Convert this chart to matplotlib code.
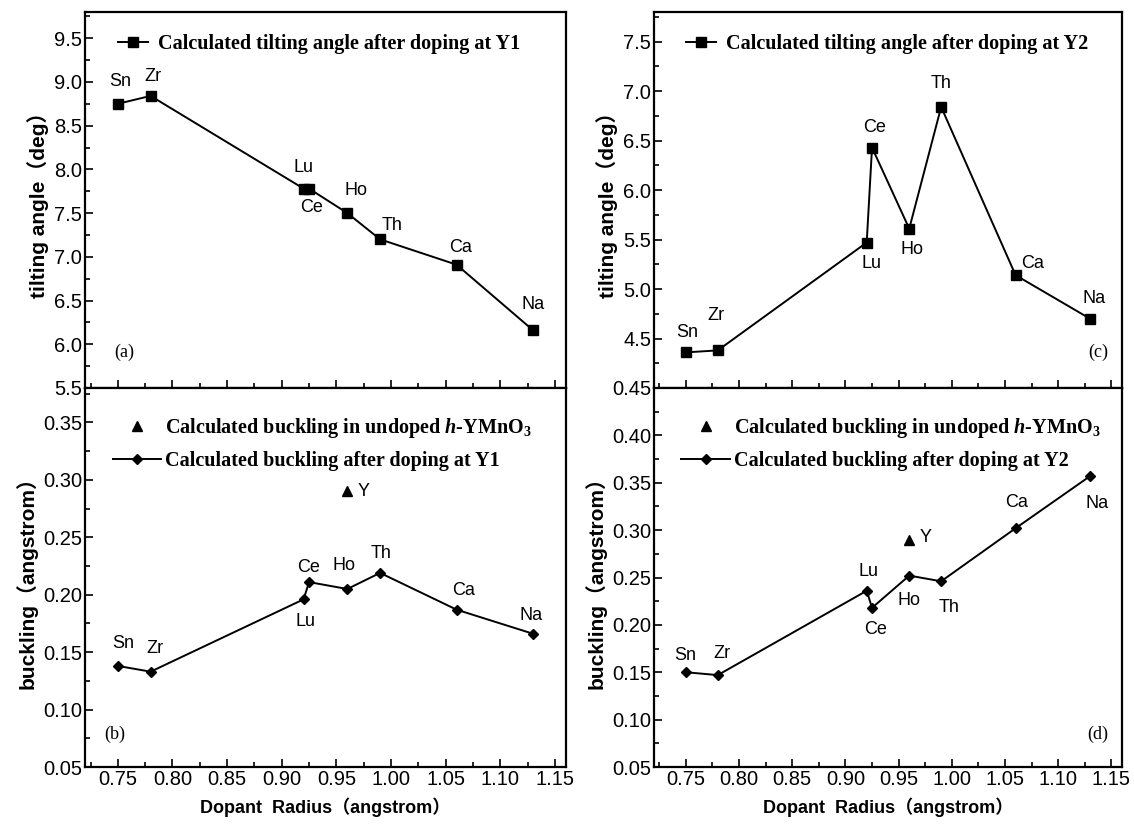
import matplotlib
matplotlib.use("Agg")
import matplotlib.pyplot as plt
from matplotlib.ticker import MultipleLocator, FixedLocator

# --- datos ---
dopantes = ["Sn", "Zr", "Lu", "Ce", "Ho", "Th", "Ca", "Na"]
radio = [0.75, 0.78, 0.92, 0.925, 0.96, 0.99, 1.06, 1.13]

angulo_y1 = [8.75, 8.84, 7.78, 7.78, 7.50, 7.20, 6.91, 6.16]
angulo_y2 = [4.36, 4.38, 5.47, 6.43, 5.61, 6.84, 5.14, 4.70]
buckling_y1 = [0.138, 0.133, 0.196, 0.211, 0.205, 0.219, 0.187, 0.166]
buckling_y2 = [0.150, 0.147, 0.236, 0.218, 0.252, 0.246, 0.302, 0.357]

# Y sin dopar
radio_y = [0.96]
buckling_sin_dopar = [0.29]

ticks_a = [5.5, 6.0, 6.5, 7.0, 7.5, 8.0, 8.5, 9.0, 9.5]
ticks_c = [4.5, 5.0, 5.5, 6.0, 6.5, 7.0, 7.5]
ticks_b = [0.05, 0.10, 0.15, 0.20, 0.25, 0.30, 0.35]
ticks_d = [0.05, 0.10, 0.15, 0.20, 0.25, 0.30, 0.35, 0.40, 0.45]
ticks_x = [0.75, 0.80, 0.85, 0.90, 0.95, 1.00, 1.05, 1.10, 1.15]

# desplazamientos de las etiquetas (pixeles)
off_a = {"Sn": (2, 22), "Zr": (2, 19), "Lu": (0, 21), "Ce": (2, -19),
         "Ho": (9, 23), "Th": (12, 14), "Ca": (4, 17), "Na": (0, 26)}
off_c = {"Sn": (1, 20), "Zr": (-2, 35), "Lu": (5, -21), "Ce": (3, 20),
         "Ho": (3, -21), "Th": (0, 23), "Ca": (17, 12), "Na": (4, 20)}
off_b = {"Sn": (5, 22), "Zr": (4, 23), "Lu": (2, -22), "Ce": (-1, 15),
         "Ho": (-3, 23), "Th": (1, 19), "Ca": (7, 19), "Na": (-2, 18)}
off_d = {"Sn": (-1, 17), "Zr": (4, 22), "Lu": (2, 19), "Ce": (4, -22),
         "Ho": (0, -25), "Th": (8, -26), "Ca": (1, 26), "Na": (7, -27)}

plt.rcParams['font.family'] = ['Liberation Sans', 'DejaVu Sans']
plt.rcParams['mathtext.fontset'] = 'custom'
plt.rcParams['mathtext.rm'] = 'Liberation Serif:bold'
plt.rcParams['mathtext.it'] = 'Liberation Serif:italic:bold'

fuente_ylabel = dict(family=['Liberation Sans', 'Noto Sans CJK SC'], weight='bold', size=15)
fuente_xlabel = dict(family=['Liberation Sans', 'Noto Sans CJK SC'], weight='bold', size=13)
fuente_leyenda = {'family': 'Liberation Serif', 'weight': 'bold', 'size': 14.5}

fig = plt.figure(figsize=(11.34, 8.25), dpi=100)
ax_a = fig.add_axes([0.075, 0.5297, 0.424, 0.4558])
ax_b = fig.add_axes([0.075, 0.0703, 0.424, 0.4594])
ax_c = fig.add_axes([0.5767, 0.5297, 0.4127, 0.4558])
ax_d = fig.add_axes([0.5767, 0.0703, 0.4127, 0.4594])


def ajustar(ax, ylim, yticks, ymenor, etiqueta_x):
    ax.set_xlim(0.72, 1.16)
    ax.set_ylim(*ylim)
    ax.xaxis.set_major_locator(FixedLocator(ticks_x))
    ax.xaxis.set_minor_locator(MultipleLocator(0.025))
    ax.yaxis.set_major_locator(FixedLocator(yticks))
    ax.yaxis.set_minor_locator(MultipleLocator(ymenor))
    ax.tick_params(which='both', direction='in', top=False, right=False, width=1.2)
    ax.tick_params(which='major', length=6, labelsize=14.5, pad=2)
    ax.tick_params(which='minor', length=3.5)
    for s in ax.spines.values():
        s.set_linewidth(1.6)
    if etiqueta_x:
        ax.set_xticklabels([f"{v:.2f}" for v in ticks_x])
        ax.set_xlabel("Dopant  Radius（angstrom）", **fuente_xlabel, labelpad=6)
    else:
        ax.tick_params(labelbottom=False)


def etiquetar(ax, y, offsets):
    for nombre, xv, yv in zip(dopantes, radio, y):
        dx, dy = offsets[nombre]
        ax.annotate(nombre, (xv, yv), xytext=(dx, dy), textcoords='offset pixels',
                    ha='center', va='center', fontsize=13)


# (a) ángulo Y1
ax_a.plot(radio, angulo_y1, '-s', color='black', lw=1.4, ms=6.5,
          label="Calculated tilting angle after doping at Y1")
etiquetar(ax_a, angulo_y1, off_a)
ajustar(ax_a, (5.5, 9.8), ticks_a, 0.25, False)
ax_a.set_yticklabels([f"{v:.1f}" for v in ticks_a])
ax_a.set_ylabel("tilting angle（deg）", **fuente_ylabel, labelpad=4)
ax_a.legend(loc='upper left', bbox_to_anchor=(0.03, 0.99), frameon=False,
            prop=fuente_leyenda, handlelength=1.5, handletextpad=0.5)
ax_a.text(0.06, 0.095, "(a)", transform=ax_a.transAxes, family='Liberation Serif',
          fontsize=13, ha='left', va='center')

# (c) ángulo Y2
ax_c.plot(radio, angulo_y2, '-s', color='black', lw=1.4, ms=6.5,
          label="Calculated tilting angle after doping at Y2")
etiquetar(ax_c, angulo_y2, off_c)
ajustar(ax_c, (4.0, 7.8), ticks_c, 0.25, False)
ax_c.set_yticklabels([f"{v:.1f}" for v in ticks_c])
ax_c.set_ylabel("tilting angle（deg）", **fuente_ylabel, labelpad=4)
ax_c.legend(loc='upper left', bbox_to_anchor=(0.03, 0.99), frameon=False,
            prop=fuente_leyenda, handlelength=1.5, handletextpad=0.5)
ax_c.text(0.97, 0.095, "(c)", transform=ax_c.transAxes, family='Liberation Serif',
          fontsize=13, ha='right', va='center')

# (b) buckling Y1
ax_b.plot(radio_y, buckling_sin_dopar, '^', color='black', ms=6.5, ls='none',
          label=r"Calculated buckling in undoped $\mathit{h}$-YMnO$_\mathrm{3}$")
ax_b.plot(radio, buckling_y1, '-D', color='black', lw=1.4, ms=5.5,
          label="Calculated buckling after doping at Y1")
etiquetar(ax_b, buckling_y1, off_b)
ax_b.annotate("Y", (radio_y[0], buckling_sin_dopar[0]), xytext=(16, 0),
              textcoords='offset pixels', ha='center', va='center', fontsize=13)
ajustar(ax_b, (0.05, 0.38), ticks_b, 0.025, True)
ax_b.set_yticklabels([f"{v:.2f}" for v in ticks_b])
ax_b.set_ylabel("buckling（angstrom）", **fuente_ylabel, labelpad=4)
ax_b.legend(loc='upper left', bbox_to_anchor=(0.02, 0.975), frameon=False,
            prop=fuente_leyenda, handlelength=2.4, handletextpad=0.2, labelspacing=0.55)
ax_b.text(0.04, 0.085, "(b)", transform=ax_b.transAxes, family='Liberation Serif',
          fontsize=13, ha='left', va='center')

# (d) buckling Y2
ax_d.plot(radio_y, buckling_sin_dopar, '^', color='black', ms=6.5, ls='none',
          label=r"Calculated buckling in undoped $\mathit{h}$-YMnO$_\mathrm{3}$")
ax_d.plot(radio, buckling_y2, '-D', color='black', lw=1.4, ms=5.5,
          label="Calculated buckling after doping at Y2")
etiquetar(ax_d, buckling_y2, off_d)
ax_d.annotate("Y", (radio_y[0], buckling_sin_dopar[0]), xytext=(16, 2),
              textcoords='offset pixels', ha='center', va='center', fontsize=13)
ajustar(ax_d, (0.05, 0.45), ticks_d, 0.025, True)
ax_d.set_yticklabels([f"{v:.2f}" for v in ticks_d])
ax_d.set_ylabel("buckling（angstrom）", **fuente_ylabel, labelpad=4)
ax_d.legend(loc='upper left', bbox_to_anchor=(0.02, 0.975), frameon=False,
            prop=fuente_leyenda, handlelength=2.4, handletextpad=0.2, labelspacing=0.55)
ax_d.text(0.97, 0.085, "(d)", transform=ax_d.transAxes, family='Liberation Serif',
          fontsize=13, ha='right', va='center')

fig.savefig("out.png", dpi=100)
